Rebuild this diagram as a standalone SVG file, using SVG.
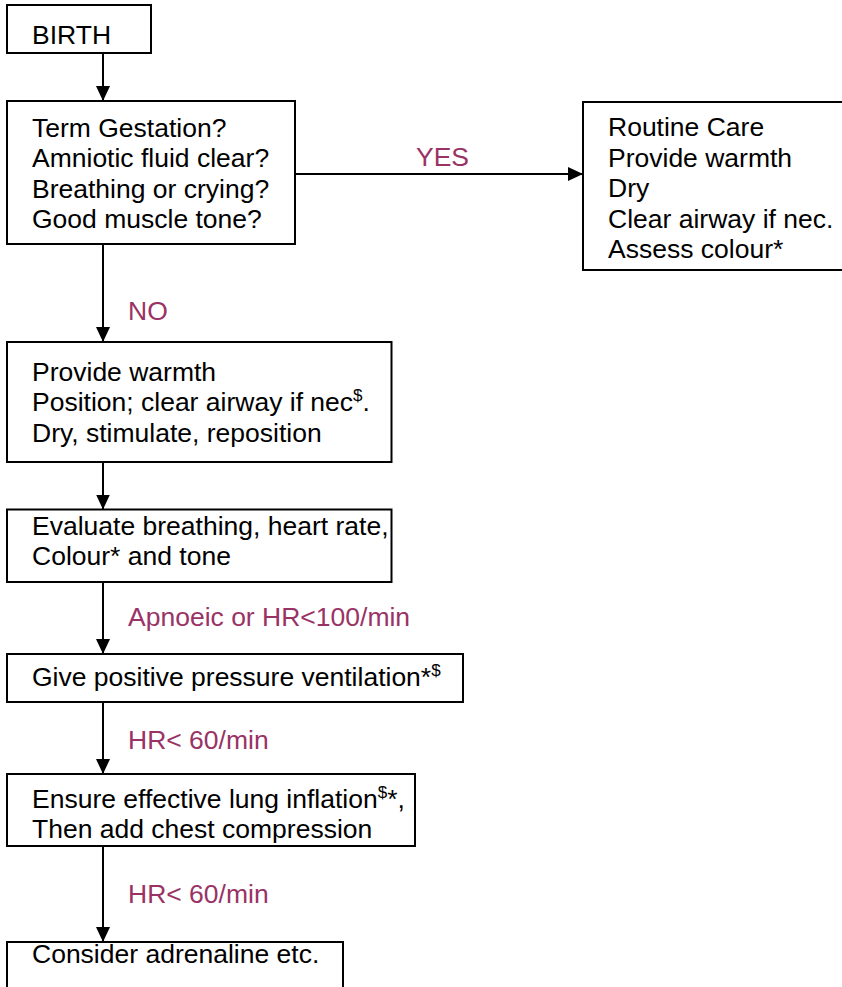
<svg xmlns="http://www.w3.org/2000/svg" width="842" height="987" viewBox="0 0 842 987">
<style>
  .box { fill: #ffffff; stroke: #000000; stroke-width: 2; }
  .t { font-family: "Liberation Sans", Arial, sans-serif; font-size: 26.5px; fill: #000000; }
  .lbl { font-family: "Liberation Sans", Arial, sans-serif; font-size: 26.5px; fill: #993366; }
  .sup { font-size: 17px; }
  .conn { stroke: #000000; stroke-width: 2; fill: none; }
</style>
<defs>
  <marker id="arr" markerWidth="15" markerHeight="15" refX="15" refY="7" orient="auto" markerUnits="userSpaceOnUse" viewBox="0 0 15 14">
    <path d="M0,0 L15,7 L0,14 Z" fill="#000000"/>
  </marker>
</defs>
<rect width="842" height="987" fill="#ffffff"/>

<g id="connectors">
  <line class="conn" x1="103" y1="53" x2="103" y2="101" marker-end="url(#arr)"/>
  <line class="conn" x1="295" y1="174" x2="583" y2="174" stroke-width="1.6" marker-end="url(#arr)"/>
  <line class="conn" x1="103" y1="244" x2="103" y2="342" marker-end="url(#arr)"/>
  <line class="conn" x1="103" y1="462" x2="103" y2="509.5" marker-end="url(#arr)"/>
  <line class="conn" x1="103" y1="582" x2="103" y2="654" marker-end="url(#arr)"/>
  <line class="conn" x1="103" y1="702" x2="103" y2="774" marker-end="url(#arr)"/>
  <line class="conn" x1="103" y1="846" x2="103" y2="942" marker-end="url(#arr)"/>
  <text class="lbl" x="416" y="166">YES</text>
  <text class="lbl" x="128" y="320">NO</text>
  <text class="lbl" x="128" y="626">Apnoeic or HR&lt;100/min</text>
  <text class="lbl" x="128" y="749">HR&lt; 60/min</text>
  <text class="lbl" x="128" y="903">HR&lt; 60/min</text>
</g>

<g id="birth">
  <rect class="box" x="7" y="5" width="144" height="48"/>
  <text class="t" x="32" y="44">BIRTH</text>
</g>

<g id="assess">
  <rect class="box" x="7" y="101" width="288" height="143"/>
  <text class="t" x="32" y="137">Term Gestation?</text>
  <text class="t" x="32" y="167">Amniotic fluid clear?</text>
  <text class="t" x="32" y="197.5">Breathing or crying?</text>
  <text class="t" x="32" y="228">Good muscle tone?</text>
</g>

<g id="routine">
  <rect class="box" x="583" y="102" width="270" height="168"/>
  <text class="t" x="608" y="136">Routine Care</text>
  <text class="t" x="608" y="166.5">Provide warmth</text>
  <text class="t" x="608" y="197">Dry</text>
  <text class="t" x="608" y="227.5">Clear airway if nec.</text>
  <text class="t" x="608" y="258">Assess colour*</text>
</g>

<g id="initial">
  <rect class="box" x="7" y="342" width="384.5" height="120"/>
  <text class="t" x="32" y="380.5">Provide warmth</text>
  <text class="t" x="32" y="411">Position; clear airway if nec<tspan class="sup" dy="-10">$</tspan><tspan dy="10">.</tspan></text>
  <text class="t" x="32" y="441.5">Dry, stimulate, reposition</text>
</g>

<g id="evaluate">
  <rect class="box" x="7" y="509.5" width="384.5" height="72.5"/>
  <text class="t" x="32" y="535">Evaluate breathing, heart rate,</text>
  <text class="t" x="32" y="565">Colour* and tone</text>
</g>

<g id="ppv">
  <rect class="box" x="7" y="654" width="456" height="48"/>
  <text class="t" x="32" y="686">Give positive pressure ventilation*<tspan class="sup" dy="-10">$</tspan></text>
</g>

<g id="compression">
  <rect class="box" x="7" y="774" width="408" height="72"/>
  <text class="t" x="32" y="808">Ensure effective lung inflation<tspan class="sup" dy="-10">$</tspan><tspan dy="10">*,</tspan></text>
  <text class="t" x="32" y="838">Then add chest compression</text>
</g>

<g id="adrenaline">
  <rect class="box" x="7" y="942" width="336" height="60"/>
  <text class="t" x="32" y="963">Consider adrenaline etc.</text>
</g>
</svg>
